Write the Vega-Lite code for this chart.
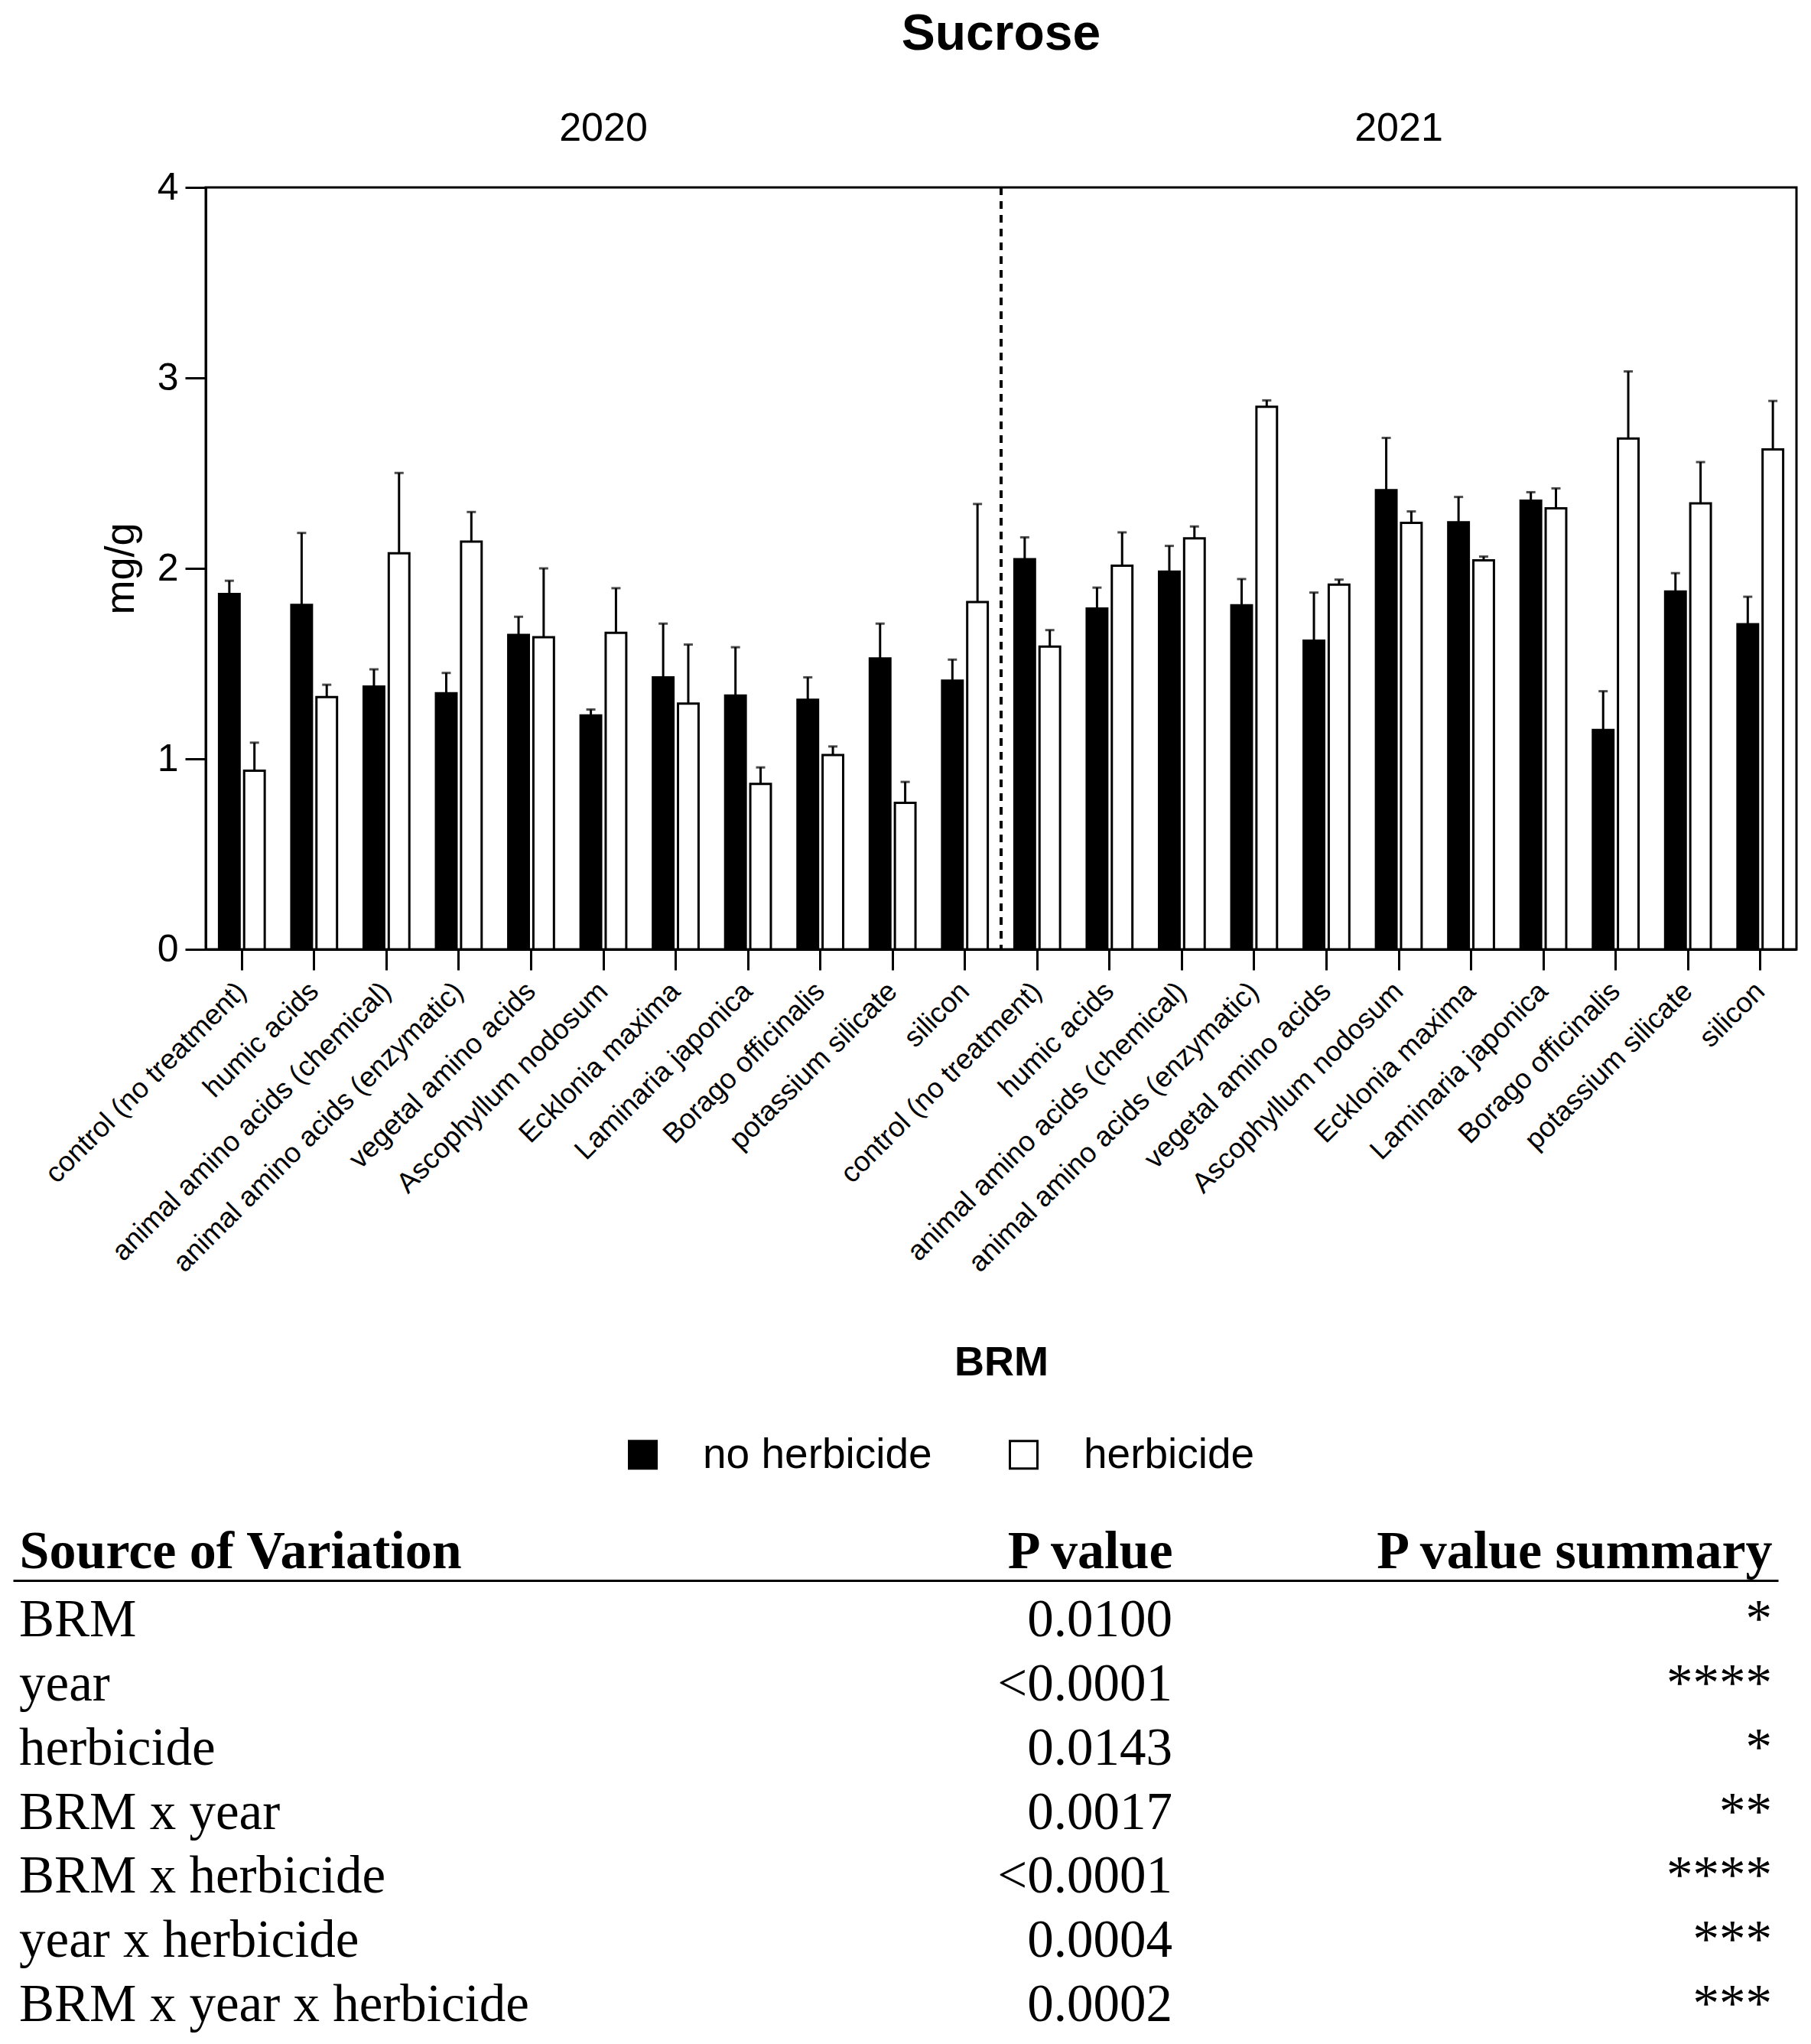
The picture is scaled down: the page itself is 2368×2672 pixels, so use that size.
{
  "$schema": "https://vega.github.io/schema/vega-lite/v6.json",
  "background": "white",
  "padding": {"left": 25, "top": 10, "right": 12, "bottom": 5},
  "spacing": 183,
  "config": {
    "font": "Liberation Sans",
    "axis": {"grid": false, "domainColor": "black", "tickColor": "black", "labelColor": "black", "titleColor": "black"},
    "legend": {"labelColor": "black"}
  },
  "vconcat": [
    {
      "title": {"text": "Sucrose", "anchor": "middle", "frame": "group", "fontSize": 66, "fontWeight": "bold", "font": "Liberation Sans", "color": "black", "offset": 63},
      "width": 2080,
      "height": 996,
      "view": {"stroke": "black", "strokeWidth": 3},
      "data": {"values": [
        {"cat": "2020|control (no treatment)", "herb": "no herbicide", "mean": 1.865, "upper": 1.935},
        {"cat": "2020|control (no treatment)", "herb": "herbicide", "mean": 0.938, "upper": 1.085},
        {"cat": "2020|humic acids", "herb": "no herbicide", "mean": 1.808, "upper": 2.186},
        {"cat": "2020|humic acids", "herb": "herbicide", "mean": 1.324, "upper": 1.389},
        {"cat": "2020|animal amino acids (chemical)", "herb": "no herbicide", "mean": 1.380, "upper": 1.470},
        {"cat": "2020|animal amino acids (chemical)", "herb": "herbicide", "mean": 2.079, "upper": 2.501},
        {"cat": "2020|animal amino acids (enzymatic)", "herb": "no herbicide", "mean": 1.344, "upper": 1.451},
        {"cat": "2020|animal amino acids (enzymatic)", "herb": "herbicide", "mean": 2.141, "upper": 2.296},
        {"cat": "2020|vegetal amino acids", "herb": "no herbicide", "mean": 1.651, "upper": 1.746},
        {"cat": "2020|vegetal amino acids", "herb": "herbicide", "mean": 1.639, "upper": 2.000},
        {"cat": "2020|Ascophyllum nodosum", "herb": "no herbicide", "mean": 1.228, "upper": 1.259},
        {"cat": "2020|Ascophyllum nodosum", "herb": "herbicide", "mean": 1.662, "upper": 1.896},
        {"cat": "2020|Ecklonia maxima", "herb": "no herbicide", "mean": 1.428, "upper": 1.710},
        {"cat": "2020|Ecklonia maxima", "herb": "herbicide", "mean": 1.290, "upper": 1.600},
        {"cat": "2020|Laminaria japonica", "herb": "no herbicide", "mean": 1.332, "upper": 1.586},
        {"cat": "2020|Laminaria japonica", "herb": "herbicide", "mean": 0.868, "upper": 0.955},
        {"cat": "2020|Borago officinalis", "herb": "no herbicide", "mean": 1.310, "upper": 1.428},
        {"cat": "2020|Borago officinalis", "herb": "herbicide", "mean": 1.020, "upper": 1.065},
        {"cat": "2020|potassium silicate", "herb": "no herbicide", "mean": 1.527, "upper": 1.710},
        {"cat": "2020|potassium silicate", "herb": "herbicide", "mean": 0.769, "upper": 0.879},
        {"cat": "2020|silicon", "herb": "no herbicide", "mean": 1.411, "upper": 1.521},
        {"cat": "2020|silicon", "herb": "herbicide", "mean": 1.823, "upper": 2.338},
        {"cat": "2021|control (no treatment)", "herb": "no herbicide", "mean": 2.048, "upper": 2.163},
        {"cat": "2021|control (no treatment)", "herb": "herbicide", "mean": 1.589, "upper": 1.676},
        {"cat": "2021|humic acids", "herb": "no herbicide", "mean": 1.789, "upper": 1.899},
        {"cat": "2021|humic acids", "herb": "herbicide", "mean": 2.014, "upper": 2.189},
        {"cat": "2021|animal amino acids (chemical)", "herb": "no herbicide", "mean": 1.983, "upper": 2.118},
        {"cat": "2021|animal amino acids (chemical)", "herb": "herbicide", "mean": 2.158, "upper": 2.220},
        {"cat": "2021|animal amino acids (enzymatic)", "herb": "no herbicide", "mean": 1.806, "upper": 1.944},
        {"cat": "2021|animal amino acids (enzymatic)", "herb": "herbicide", "mean": 2.848, "upper": 2.882},
        {"cat": "2021|vegetal amino acids", "herb": "no herbicide", "mean": 1.620, "upper": 1.873},
        {"cat": "2021|vegetal amino acids", "herb": "herbicide", "mean": 1.915, "upper": 1.941},
        {"cat": "2021|Ascophyllum nodosum", "herb": "no herbicide", "mean": 2.411, "upper": 2.685},
        {"cat": "2021|Ascophyllum nodosum", "herb": "herbicide", "mean": 2.239, "upper": 2.299},
        {"cat": "2021|Ecklonia maxima", "herb": "no herbicide", "mean": 2.242, "upper": 2.375},
        {"cat": "2021|Ecklonia maxima", "herb": "herbicide", "mean": 2.042, "upper": 2.062},
        {"cat": "2021|Laminaria japonica", "herb": "no herbicide", "mean": 2.355, "upper": 2.400},
        {"cat": "2021|Laminaria japonica", "herb": "herbicide", "mean": 2.315, "upper": 2.420},
        {"cat": "2021|Borago officinalis", "herb": "no herbicide", "mean": 1.152, "upper": 1.355},
        {"cat": "2021|Borago officinalis", "herb": "herbicide", "mean": 2.682, "upper": 3.034},
        {"cat": "2021|potassium silicate", "herb": "no herbicide", "mean": 1.879, "upper": 1.975},
        {"cat": "2021|potassium silicate", "herb": "herbicide", "mean": 2.341, "upper": 2.558},
        {"cat": "2021|silicon", "herb": "no herbicide", "mean": 1.707, "upper": 1.851},
        {"cat": "2021|silicon", "herb": "herbicide", "mean": 2.625, "upper": 2.879}
      ]},
      "layer": [
        {
          "mark": {"type": "bar", "stroke": "black", "strokeWidth": 3},
          "encoding": {
            "x": {
              "field": "cat", "type": "nominal",
              "scale": {
                "domain": ["2020|control (no treatment)", "2020|humic acids", "2020|animal amino acids (chemical)", "2020|animal amino acids (enzymatic)", "2020|vegetal amino acids", "2020|Ascophyllum nodosum", "2020|Ecklonia maxima", "2020|Laminaria japonica", "2020|Borago officinalis", "2020|potassium silicate", "2020|silicon", "2021|control (no treatment)", "2021|humic acids", "2021|animal amino acids (chemical)", "2021|animal amino acids (enzymatic)", "2021|vegetal amino acids", "2021|Ascophyllum nodosum", "2021|Ecklonia maxima", "2021|Laminaria japonica", "2021|Borago officinalis", "2021|potassium silicate", "2021|silicon"],
                "paddingInner": 0, "paddingOuter": 0
              },
              "axis": {
                "title": "BRM", "labelExpr": "split(datum.label, '|')[1]", "labelAngle": -45, "labelAlign": "right", "labelBaseline": "middle",
                "labelFontSize": 37, "labelFont": "Liberation Sans", "labelLimit": 0, "labelPadding": 22, "tickSize": 27, "tickWidth": 3, "domainWidth": 3,
                "titleFontSize": 54, "titleFontWeight": "bold", "titleFont": "Liberation Sans", "titleY": 556, "titleBaseline": "alphabetic"
              }
            },
            "xOffset": {"field": "herb", "type": "nominal", "scale": {"domain": ["no herbicide", "herbicide"], "paddingInner": 0.18, "paddingOuter": 0.53}},
            "y": {
              "field": "mean", "type": "quantitative",
              "scale": {"domain": [0, 4], "nice": false},
              "axis": {"title": "mg/g", "values": [0, 1, 2, 3, 4], "format": "d", "labelFontSize": 50, "labelFont": "Liberation Sans", "labelPadding": 9, "tickSize": 27, "tickWidth": 3, "domainWidth": 3, "titleFontSize": 54, "titleFontWeight": "normal", "titleFont": "Liberation Sans", "titlePadding": 20}
            },
            "color": {
              "field": "herb", "type": "nominal",
              "scale": {"domain": ["no herbicide", "herbicide"], "range": ["black", "white"]},
              "legend": {"title": null, "orient": "none", "legendX": 544, "legendY": 1629, "direction": "horizontal", "symbolType": "square", "symbolSize": 1296, "symbolStrokeColor": "black", "symbolStrokeWidth": 3, "labelFontSize": 55, "labelFont": "Liberation Sans", "labelOffset": 51, "columnPadding": 92, "labelLimit": 0, "padding": 0}
            }
          }
        },
        {
          "mark": {"type": "rule", "strokeWidth": 3, "color": "black"},
          "encoding": {
            "x": {"field": "cat", "type": "nominal"},
            "xOffset": {"field": "herb", "type": "nominal"},
            "y": {"field": "mean", "type": "quantitative"},
            "y2": {"field": "upper"}
          }
        },
        {
          "mark": {"type": "tick", "thickness": 3, "size": 12, "color": "black"},
          "encoding": {
            "x": {"field": "cat", "type": "nominal"},
            "xOffset": {"field": "herb", "type": "nominal"},
            "y": {"field": "upper", "type": "quantitative"}
          }
        },
        {
          "mark": {"type": "rule", "strokeDash": [10, 8], "strokeWidth": 3, "color": "black"},
          "encoding": {"x": {"datum": "2021|control (no treatment)", "type": "nominal", "bandPosition": 0}}
        },
        {
          "data": {"values": [{"cat": "2020|Ascophyllum nodosum", "year": "2020"}, {"cat": "2021|Ascophyllum nodosum", "year": "2021"}]},
          "mark": {"type": "text", "fontSize": 52, "font": "Liberation Sans", "baseline": "middle", "color": "black"},
          "encoding": {
            "x": {"field": "cat", "type": "nominal"},
            "y": {"datum": 4.31},
            "text": {"field": "year"}
          }
        }
      ]
    },
    {
      "width": 2080,
      "height": 649,
      "view": {"stroke": null},
      "data": {"values": [
        {"source": "BRM", "p": "0.0100", "summary": "*"},
        {"source": "year", "p": "<0.0001", "summary": "****"},
        {"source": "herbicide", "p": "0.0143", "summary": "*"},
        {"source": "BRM x year", "p": "0.0017", "summary": "**"},
        {"source": "BRM x herbicide", "p": "<0.0001", "summary": "****"},
        {"source": "year x herbicide", "p": "0.0004", "summary": "***"},
        {"source": "BRM x year x herbicide", "p": "0.0002", "summary": "***"}
      ]},
      "encoding": {
        "y": {"field": "source", "type": "nominal", "sort": null, "scale": {"type": "point", "padding": 0.873}, "axis": null}
      },
      "layer": [
        {
          "mark": {"type": "text", "align": "left", "baseline": "alphabetic", "font": "Liberation Serif", "fontSize": 69, "color": "black"},
          "encoding": {
            "x": {
              "datum": "Source of Variation", "type": "nominal",
              "scale": {"type": "point", "domain": ["Source of Variation", " ", "P value", "P value summary"], "range": [-252, 2056], "padding": 0.0105},
              "axis": {
                "orient": "top", "title": null, "ticks": false, "grid": false, "domain": true, "domainWidth": 3, "domainColor": "black",
                "labelFont": "Liberation Serif", "labelFontSize": 70, "labelFontWeight": "bold", "labelLimit": 0, "labelPadding": 2, "labelAngle": 0,
                "labelAlign": {"condition": {"test": "datum.value === 'Source of Variation'", "value": "left"}, "value": "right"},
                "labelOffset": {"condition": {"test": "datum.value === 'P value'", "value": -20}, "value": 0}
              }
            },
            "text": {"field": "source"}
          }
        },
        {
          "mark": {"type": "text", "align": "right", "dx": -20, "baseline": "alphabetic", "font": "Liberation Serif", "fontSize": 69, "color": "black"},
          "encoding": {
            "x": {"datum": "P value", "type": "nominal"},
            "text": {"field": "p"}
          }
        },
        {
          "mark": {"type": "text", "align": "right", "baseline": "alphabetic", "font": "Liberation Serif", "fontSize": 69, "color": "black"},
          "encoding": {
            "x": {"datum": "P value summary", "type": "nominal"},
            "text": {"field": "summary"}
          }
        }
      ]
    }
  ]
}
